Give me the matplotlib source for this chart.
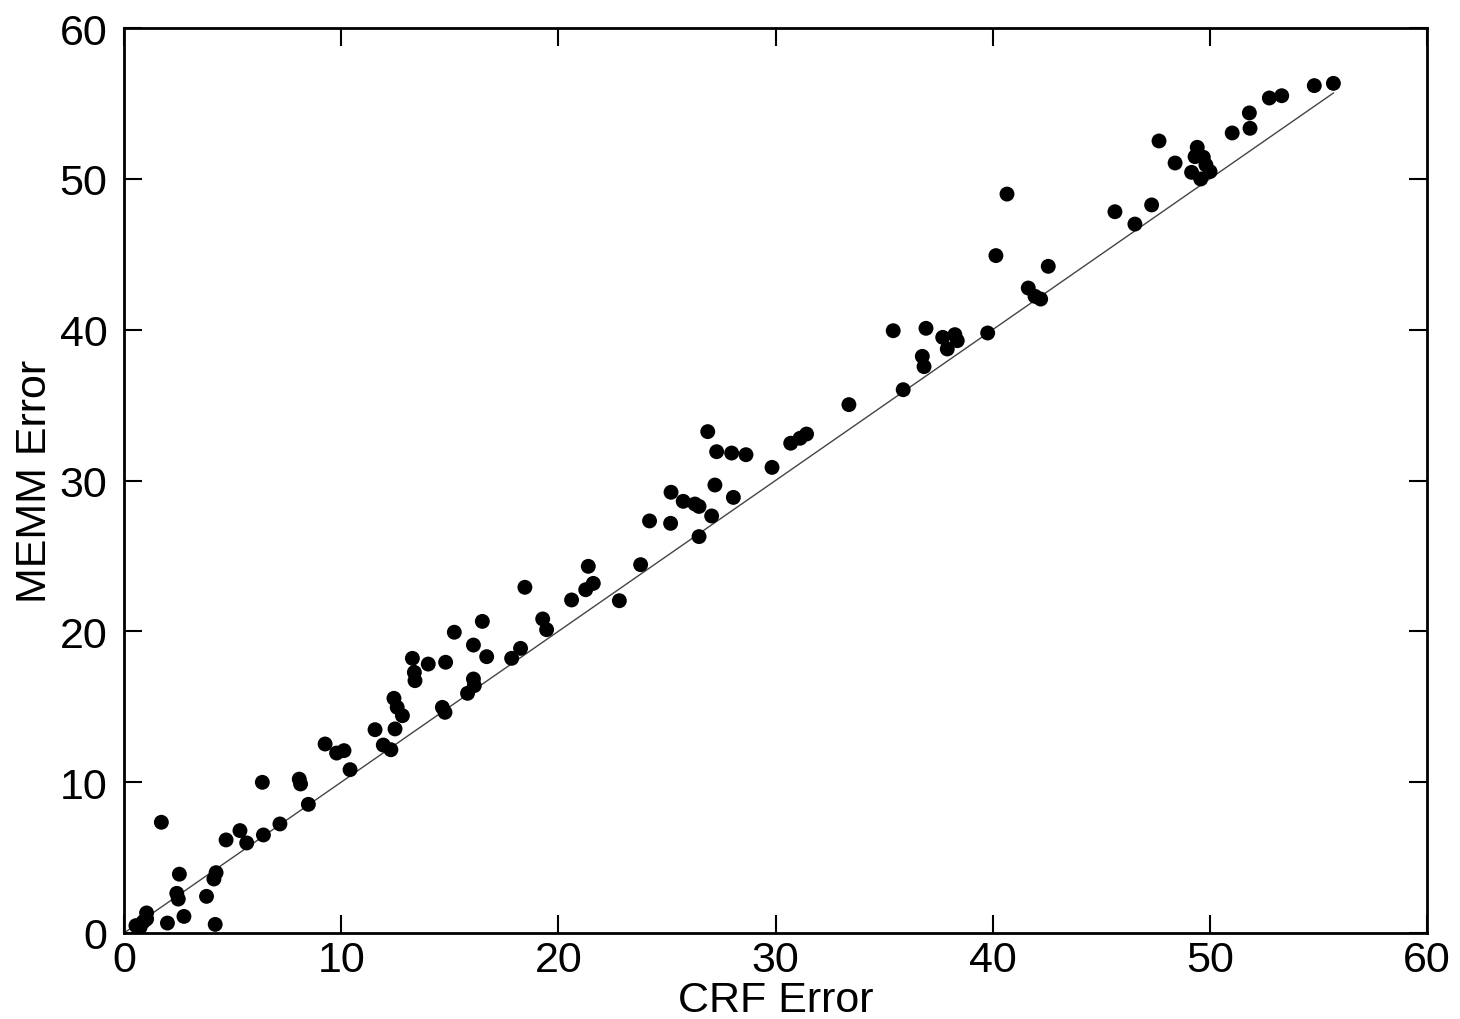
import matplotlib
matplotlib.use("Agg")
import matplotlib.pyplot as plt
import numpy as np

crf_error = [
    1.72, 2.55, 2.43, 2.50, 2.76, 2.00, 3.80, 4.24, 4.14, 4.20,
    1.04, 1.04, 0.89, 0.55, 0.74, 4.70, 5.34, 5.65, 6.42, 6.37,
    7.18, 8.07, 8.13, 8.49, 9.26, 9.79, 10.13, 10.41, 11.94, 11.56,
    12.29, 12.48, 12.43, 12.58, 12.82, 13.28, 13.37, 13.40, 14.01, 14.66,
    14.81, 14.78, 15.21, 15.82, 16.09, 16.13, 16.09, 16.50, 16.70, 17.85,
    18.26, 18.46, 19.28, 19.46, 20.61, 21.26, 21.61, 21.38, 22.81, 23.79,
    24.20, 25.17, 25.19, 25.75, 26.29, 26.48, 26.48, 26.88, 27.06, 27.21,
    27.29, 27.98, 28.06, 28.64, 29.84, 30.70, 31.13, 31.43, 33.38, 35.88,
    35.42, 36.93, 36.76, 36.84, 37.70, 37.91, 38.26, 38.37, 39.77, 40.15,
    42.56, 41.64, 41.95, 42.21, 40.66, 45.63, 46.55, 47.32, 47.66, 48.40,
    49.16, 49.42, 49.32, 49.70, 49.82, 49.58, 50.01, 51.03, 51.85, 51.82,
    52.74, 53.31, 54.81, 55.69,
]
memm_error = [
    7.34, 3.90, 2.63, 2.25, 1.10, 0.66, 2.43, 4.00, 3.58, 0.57,
    0.93, 1.33, 0.75, 0.49, 0.38, 6.17, 6.79, 5.97, 6.50, 9.99,
    7.23, 10.20, 9.88, 8.53, 12.53, 11.93, 12.09, 10.83, 12.46, 13.48,
    12.15, 13.53, 15.56, 14.96, 14.41, 18.21, 17.28, 16.73, 17.83, 14.96,
    17.95, 14.63, 19.94, 15.89, 16.84, 16.40, 19.09, 20.66, 18.32, 18.21,
    18.87, 22.92, 20.82, 20.11, 22.08, 22.76, 23.18, 24.31, 22.03, 24.42,
    27.32, 27.16, 29.22, 28.62, 28.44, 28.28, 26.28, 33.24, 27.65, 29.70,
    31.91, 31.82, 28.88, 31.71, 30.87, 32.47, 32.80, 33.08, 35.03, 36.02,
    39.93, 40.09, 38.23, 37.55, 39.49, 38.72, 39.67, 39.27, 39.78, 44.91,
    44.20, 42.76, 42.21, 42.03, 48.99, 47.82, 47.00, 48.27, 52.51, 51.05,
    50.43, 52.09, 51.47, 51.43, 50.92, 49.99, 50.48, 53.04, 53.35, 54.37,
    55.36, 55.51, 56.18, 56.33,
]
x_ticks = [0, 10, 20, 30, 40, 50, 60]
y_ticks = [0, 10, 20, 30, 40, 50, 60]

plt.rcParams['font.family'] = ['Liberation Sans', 'DejaVu Sans']

fig = plt.figure(figsize=(14.6, 10.2), dpi=100)
ax = fig.add_axes([124/1460, 86/1020, 1303/1460, 905/1020])

ax.scatter(crf_error, memm_error, s=115, c='black', edgecolors='none', zorder=3)
lim = max(crf_error)
ax.plot([0, lim], [0, lim], color='#444444', lw=1.0, zorder=2)

ax.set_xlim(0, 60)
ax.set_ylim(0, 60)
ax.set_xticks(x_ticks)
ax.set_yticks(y_ticks)
ax.tick_params(direction='in', length=13, width=1.5, top=True, right=True,
               labelsize=31, colors='black')
ax.tick_params(axis='x', pad=5)
ax.tick_params(axis='y', pad=12)
for s in ax.spines.values():
    s.set_linewidth(2)

ax.set_xlabel('CRF Error', fontsize=31)
ax.set_ylabel('MEMM Error', fontsize=31)
ax.xaxis.label.set_va('center')
ax.xaxis.set_label_coords(0.5, -0.0735)
ax.yaxis.label.set_va('center')
ax.yaxis.set_label_coords(-0.068, 0.5)

fig.savefig('out.png', dpi=100)
